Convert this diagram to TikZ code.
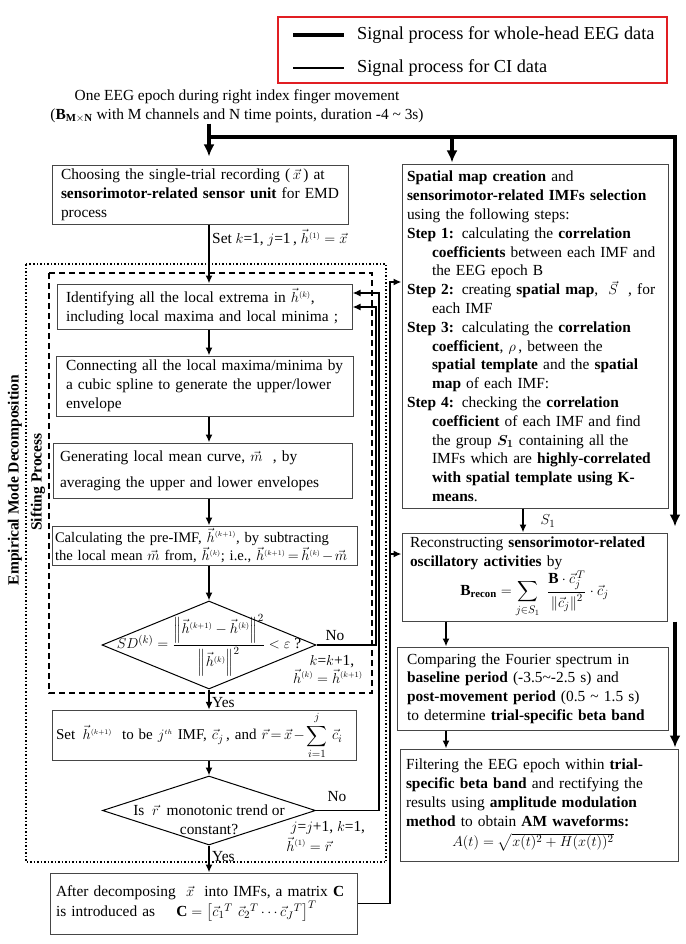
\documentclass[tikz,border=0pt]{standalone}
\usepackage{amsmath}
\usepackage{fontspec}
\setmainfont{Liberation Serif}
\usetikzlibrary{arrows.meta,shapes.geometric,calc}
\definecolor{boxgray}{RGB}{70,70,70}
\definecolor{legred}{RGB}{225,30,35}
\newcommand{\bodyfont}{\fontsize{15.4}{18.8}\selectfont}
\newcommand{\smallbody}{\fontsize{15}{18.8}\selectfont}
\newcommand{\calcfont}{\fontsize{14.6}{18.8}\selectfont}
\newcommand{\legfont}{\fontsize{18.3}{21}\selectfont}
\newcommand{\hang}{\hspace*{25pt}}
\newcommand{\hv}[1]{\vec{h}^{\scriptscriptstyle(#1)}}
\newcommand{\tightmath}{\thickmuskip=3mu plus 1mu\medmuskip=2mu plus 1mu}
\begin{document}
\begin{tikzpicture}[x=1pt,y=-1pt,
  box/.style={draw=boxgray,line width=1pt,rectangle,align=left,inner ysep=2pt,font=\bodyfont},
  conn/.style={line width=1.6pt,-{Latex[length=8pt,width=7pt]}},
  thickconn/.style={line width=3.6pt,line join=miter,-{Latex[length=12pt,width=11pt]}},
  lab/.style={font=\bodyfont,inner sep=1pt},
  dia/.style={draw=black,line width=1pt,shape=diamond,inner sep=0pt}]
\useasboundingbox (0,0) rectangle (685,944);

% legend
\node[draw=legred,line width=1.6pt,minimum width=389pt,minimum height=66pt,inner sep=0pt] (legend) at (472.5,50) {};
\coordinate (lg1) at (293,35); \coordinate (lg1e) at (344,35);
\coordinate (lg2) at (293,68); \coordinate (lg2e) at (344,68);
\draw[line width=4pt] (lg1) -- (lg1e);
\draw[line width=1.7pt] (lg2) -- (lg2e);
\node[anchor=west,font=\legfont,inner sep=0pt] (legt1) at (357,35) {Signal process for whole-head EEG data};
\node[anchor=west,font=\legfont,inner sep=0pt] (legt2) at (357,68) {Signal process for CI data};

% header
\node[font=\bodyfont,align=center,inner sep=1pt] (header) at (237,106) {One EEG epoch during right index finger movement\\($\mathbf{B}_{\mathbf{M\times N}}$ with M channels and N time points, duration -4 \textasciitilde{} 3s)};

% containers
\draw[line width=1.5pt,dotted] (26,264) rectangle (386,862);
\draw[line width=1.2pt,dash pattern=on 6pt off 4pt] (49,273) rectangle (372,693);
\node[rotate=90,font=\fontsize{15.5}{18}\selectfont\bfseries] (emdlab) at (15,480) {Empirical Mode Decomposition};
\node[rotate=90,font=\fontsize{15.5}{18}\selectfont\bfseries] (siftlab) at (38,482) {Sifting Process};

% left column
\node[box,text width=286pt,inner xsep=5pt,minimum height=58pt] (choose) at (200,195) {\hspace*{4pt}Choosing the single-trial recording (\,$\vec{x}$\,) at\\\hspace*{4pt}\textbf{sensorimotor-related sensor unit} for EMD\\\hspace*{4pt}process};
\node[box,text width=283pt,inner xsep=6pt,minimum height=45pt] (ident) at (204.5,306.5) {\hspace*{3pt}Identifying all the local extrema in $\hv{k}$,\\\hspace*{3pt}including local maxima and local minima ;};
\node[box,text width=285pt,inner xsep=6pt,minimum height=60pt] (connect) at (204.5,386) {\hspace*{4pt}Connecting all the local maxima/minima by\\\hspace*{4pt}a cubic spline to generate the upper/lower\\\hspace*{4pt}envelope};
\node[box,text width=287pt,inner xsep=6pt,minimum height=55pt] (gen) at (202.5,470.5) {\hspace*{1pt}Generating local mean curve, $\vec{m}$\ \ , by\\[7pt]\hspace*{1pt}averaging the upper and lower envelopes};
\node[box,font=\calcfont,text width=299pt,inner xsep=3pt,minimum height=39pt,inner ysep=1pt] (calc) at (204.5,545.5) {\tightmath Calculating the pre-IMF, $\hv{k+1}$, by subtracting\\the local mean $\vec{m}$\ from, $\hv{k}$; i.e., $\hv{k+1}=\hv{k}-\vec{m}$};
\node[dia,minimum width=214pt,minimum height=88pt] (d1) at (209,645) {};
\node[font=\bodyfont,inner sep=0pt] (d1t) at (209,645) {$SD^{(k)}=\dfrac{\left\|\hv{k+1}-\hv{k}\right\|^{2}}{\left\|\hv{k}\right\|^{2}}<\varepsilon$ ?};
\node[box,font=\smallbody,text width=296pt,inner xsep=4pt,minimum height=45pt] (setbox) at (204,735.5) {\tightmath Set \,$\hv{k+1}$\,\, to be $j^{\scriptscriptstyle th}$ IMF, $\vec{c}_j$\,, and $\vec{r}=\vec{x}-\displaystyle\sum_{i=1}^{j}\,\vec{c}_i$};
\node[dia,minimum width=213pt,minimum height=69pt] (d2) at (209,810.5) {};
\node[font=\bodyfont,align=center,inner sep=0pt] (d2t) at (209,820) {Is \ $\vec{r}$\ \ monotonic trend or\\constant?};
\node[box,text width=295pt,inner xsep=6pt,minimum height=61pt] (after) at (203.5,903.5) {After decomposing \ $\vec{x}$\ \ into IMFs, a matrix \textbf{C}\\is introduced as \hspace{16pt}$\mathbf{C}=\left[\vec{c}_1{}^{T}\ \vec{c}_2{}^{T}\cdots\vec{c}_J{}^{T}\right]^{T}$};

% right column
\node[box,text width=256pt,inner xsep=5pt,minimum height=343pt] (spatial) at (535,336.5) {\textbf{Spatial map creation} and\\
\textbf{sensorimotor-related IMFs selection}\\
using the following steps:\\
\textbf{Step 1:} calculating the \textbf{correlation}\\
\hang\textbf{coefficients} between each IMF and\\
\hang the EEG epoch B\\
\textbf{Step 2:} creating \textbf{spatial map}, \ $\vec{S}$\ \ , for\\
\hang each IMF\\
\textbf{Step 3:} calculating the \textbf{correlation}\\
\hang\textbf{coefficient}, $\rho$\,, between the\\
\hang\textbf{spatial template} and the \textbf{spatial}\\
\hang\textbf{map} of each IMF:\\
\textbf{Step 4:} checking the \textbf{correlation}\\
\hang\textbf{coefficient} of each IMF and find\\
\hang the group $\boldsymbol{S_1}$ containing all the\\
\hang IMFs which are \textbf{highly-correlated}\\
\hang\textbf{with spatial template using K-}\\
\hang\textbf{means}.};
\node[box,text width=249pt,inner xsep=8pt,minimum height=88pt] (recon) at (534.5,577) {Reconstructing \textbf{sensorimotor-related}\\\textbf{oscillatory activities} by\\\makebox[249pt][c]{$\displaystyle\mathbf{B}_{\mathbf{recon}}=\sum_{j\in S_1}\ \frac{\mathbf{B}\cdot\vec{c}_j^{\,T}}{\left\|\vec{c}_j\right\|^{2}}\cdot\vec{c}_j$}};
\node[box,text width=251pt,inner xsep=10pt,minimum height=83pt] (compare) at (532.5,688.5) {Comparing the Fourier spectrum in\\\textbf{baseline period} (-3.5\textasciitilde{}-2.5 s) and\\\textbf{post-movement period} (0.5 \textasciitilde{} 1.5 s)\\to determine \textbf{trial-specific beta band}};
\node[box,text width=266pt,inner xsep=6pt,minimum height=112pt] (filter) at (539,805) {Filtering the EEG epoch within \textbf{trial-}\\\textbf{specific beta band} and rectifying the\\results using \textbf{amplitude modulation}\\\textbf{method} to obtain \textbf{AM waveforms:}\\[2pt]\makebox[254pt][c]{$A(t)=\sqrt{x(t)^{2}+H(x(t))^{2}}$}};

% thick connectors
\coordinate (split) at (209,137);
\coordinate (tr) at (675,137);
\coordinate (sp) at (452,137);
\draw[thickconn,shorten >=9pt] (header.south -| split) -- (split |- choose.north);
\draw[thickconn,shorten >=6pt] (split) -- (tr) -- (tr |- recon.north);
\draw[thickconn,shorten >=2pt] (sp) -- (sp |- spatial.north);
\draw[thickconn,shorten >=1pt] (tr |- recon.south) -- (tr |- filter.north);

% thin connectors, left column
\draw[conn] (split |- choose.south) -- (split |- ident.north);
\node[lab,anchor=west] (setlab) at (211,238) {Set $k$=1, $j$=1\,, $\hv{1}=\vec{x}$};
\draw[conn] (split |- ident.south) -- (split |- connect.north);
\draw[conn] (split |- connect.south) -- (split |- gen.north);
\draw[conn] (split |- gen.south) -- (split |- calc.north);
\draw[conn] (split |- calc.south) -- (d1.north);
\draw[conn] (d1.south) -- (split |- setbox.north);
\node[lab,anchor=west] (yes1) at (211,703) {Yes};
\draw[conn] (split |- setbox.south) -- (d2.north);
\draw[conn] (d2.south) -- (split |- after.north);
\node[lab,anchor=west] (yes2) at (211,857) {Yes};

% loops
\coordinate (l1a) at (376,307);
\coordinate (l2a) at (379,293);
\draw[conn] (d1.east) -| (l1a) -- (l1a -| ident.east);
\draw[conn] (d2.east) -| (l2a) -- (l2a -| ident.east);
\node[lab] (no1) at (335,636) {No};
\node[lab] (kk1) at (332,662) {$k$=$k$+1,};
\node[lab] (hh1) at (328,676) {$\hv{k}=\hv{k+1}$};
\node[lab] (no2) at (337,797) {No};
\node[lab] (jj1) at (328,828) {$j$=$j$+1, $k$=1,};
\node[lab] (hr1) at (309,844) {$\hv{1}=\vec{r}$};

% C matrix to right column
\coordinate (l3a) at (390,282);
\coordinate (l3b) at (390,554);
\draw[conn] (after.east) -| (l3a) -- (l3a -| spatial.west);
\draw[conn] (l3b) -- (l3b -| recon.west);

% right column thin
\coordinate (s1x) at (523,0);
\draw[conn] (s1x |- spatial.south) -- (s1x |- recon.north);
\node[lab] (s1lab) at (548,521) {$S_1$};
\coordinate (rx) at (446,0);
\draw[conn] (rx |- recon.south) -- (rx |- compare.north);
\draw[conn] (rx |- compare.south) -- (rx |- filter.north);
\end{tikzpicture}
\end{document}
